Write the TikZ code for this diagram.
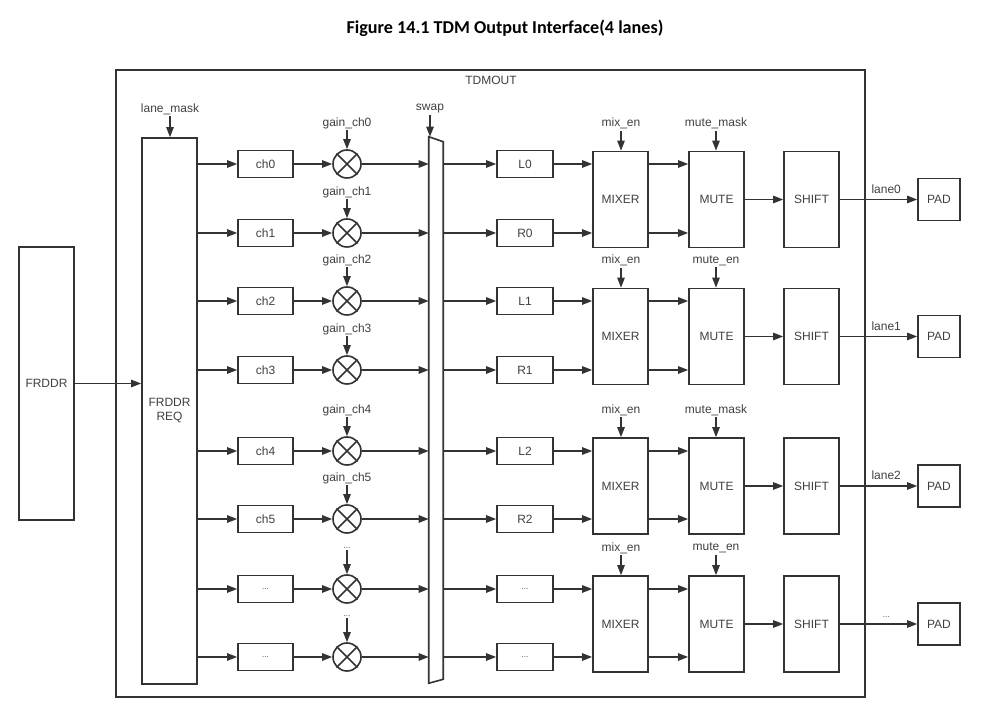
\documentclass[tikz,border=0pt]{standalone}
\usepackage{fontspec}
\setmainfont{Liberation Sans}
\newfontfamily\titlefont{Carlito}
\usetikzlibrary{arrows.meta}
\newdimen\pxu \pxu=0.75pt
\newcommand\smalldots{{\fontsize{6}{6}\selectfont ...}}
\tikzset{
 line/.style={draw=black!80, line width=1.2pt},
 arr/.style={line, -{Triangle[length=7.5pt,width=5.5pt]}},
 box/.style={draw=black!80, line width=1.2pt, rectangle, inner sep=0pt, text=black!75, font=\fontsize{9}{10.5}\selectfont},
 lbl/.style={inner sep=1pt, text=black!75, font=\fontsize{9}{10.5}\selectfont},
 mult/.style={draw=black!80, line width=1.2pt, circle, inner sep=0pt, minimum size=28\pxu},
}
\begin{document}
\begin{tikzpicture}[x=0.75pt,y=-0.75pt]
\useasboundingbox (0,0) rectangle (1007,712);
\node[font=\titlefont\bfseries\fontsize{13.6}{15}\selectfont] (title) at (505,28) {Figure 14.1 TDM Output Interface(4 lanes)};
\node[box, minimum width=749\pxu, minimum height=627\pxu] (tdm) at (490.5,383.5) {};
\node[lbl] (tdmlbl) at (491,80) {TDMOUT};
\node[box, minimum width=55\pxu, minimum height=273\pxu] (frddr) at (46.5,383.5) {FRDDR};
\node[box, minimum width=55\pxu, minimum height=546\pxu, align=center] (req) at (169.5,411) {FRDDR\\REQ};
\node[lbl] (lmask) at (170,109) {lane\_mask};
\draw[arr] (lmask.south) -- (lmask.south |- req.north);
\draw[arr] (frddr.east) -- (req.west |- frddr.east);
\node[minimum width=14\pxu, minimum height=546\pxu, inner sep=0pt] (swap) at (436,410) {};
\draw[line] (swap.north west) -- ([yshift=-3.75pt]swap.north east) -- ([yshift=3pt]swap.south east) -- (swap.south west) -- cycle;
\node[lbl] (swaplbl) at (430,109) {swap};
\draw[arr] (swaplbl.south) -- (swaplbl.south |- swap.north);
\foreach \y/\c/\g/\o [count=\i] in {164/ch0/gain\_ch0/L0, 233/ch1/gain\_ch1/R0, 301/ch2/gain\_ch2/L1, 370/ch3/gain\_ch3/R1, 451/ch4/gain\_ch4/L2, 519/ch5/gain\_ch5/R2, 589/\smalldots/\smalldots/\smalldots, 657/\smalldots/\smalldots/\smalldots} {
 \node[box, minimum width=55\pxu, minimum height=27\pxu] (ch\i) at (265.5,\y) {\c};
 \node[mult] (g\i) at (347,\y) {};
 \draw[line] (g\i.north east) -- (g\i.south west) (g\i.north west) -- (g\i.south east);
 \node[lbl] (gl\i) at (347,\y-41) {\g};
 \draw[arr] (gl\i.south) -- (g\i.north);
 \draw[arr] (req.east |- ch\i.west) -- (ch\i.west);
 \draw[arr] (ch\i.east) -- (g\i.west);
 \draw[arr] (g\i.east) -- (swap.west |- g\i.east);
 \node[box, minimum width=56\pxu, minimum height=27\pxu] (o\i) at (525,\y) {\o};
 \draw[arr] (swap.east |- o\i.west) -- (o\i.west);
}
\foreach \k/\ya/\yb/\ma/\mb/\pl in {0/164/233/mix\_en/mute\_mask/lane0, 1/301/370/mix\_en/mute\_en/lane1, 2/451/519/mix\_en/mute\_mask/lane2, 3/589/657/mix\_en/mute\_en/\smalldots} {
 \pgfmathsetmacro\yc{(\ya+\yb)/2+1}
 \pgfmathtruncatemacro\ia{2*\k+1}
 \pgfmathtruncatemacro\ib{2*\k+2}
 \node[box, minimum width=55\pxu, minimum height=96\pxu] (mix\k) at (620.5,\yc) {MIXER};
 \node[box, minimum width=55\pxu, minimum height=96\pxu] (mute\k) at (716.5,\yc) {MUTE};
 \node[box, minimum width=55\pxu, minimum height=96\pxu] (shift\k) at (811.5,\yc) {SHIFT};
 \node[box, minimum width=42\pxu, minimum height=42\pxu] (pad\k) at (939,\yc) {PAD};
 \node[lbl] (ml\k) at (621,\yc-76) {\ma};
 \node[lbl] (ul\k) at (716,\yc-76) {\mb};
 \draw[arr] (ml\k.south) -- (ml\k.south |- mix\k.north);
 \draw[arr] (ul\k.south) -- (ul\k.south |- mute\k.north);
 \draw[arr] (o\ia.east) -- (mix\k.west |- o\ia.east);
 \draw[arr] (o\ib.east) -- (mix\k.west |- o\ib.east);
 \draw[arr] (mix\k.east |- o\ia.east) -- (mute\k.west |- o\ia.east);
 \draw[arr] (mix\k.east |- o\ib.east) -- (mute\k.west |- o\ib.east);
 \draw[arr] (mute\k.east) -- (shift\k.west);
 \draw[arr] (shift\k.east) -- node[lbl, pos=0.6, above=3pt] (pl\k) {\pl} (pad\k.west);
}
\end{tikzpicture}
\end{document}
